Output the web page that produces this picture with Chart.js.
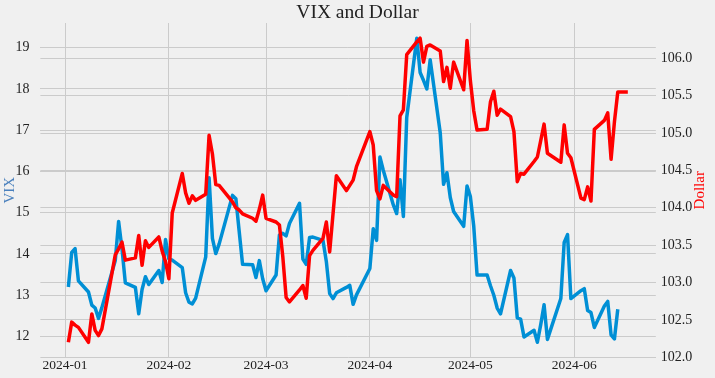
<!DOCTYPE html>
<html>
<head>
<meta charset="utf-8">
<script src="https://cdn.jsdelivr.net/npm/chart.js@4.4.1/dist/chart.umd.min.js"></script>
<style>
    html, body { margin: 0; padding: 0; background: #f0f0f0; }
    canvas { display: block; }
</style>
</head>
<body>
<canvas id="myChart" width="715" height="378"></canvas>
<script>
// Trading days shared by both series
const tradingDays = [
    '2024-01-02','2024-01-03','2024-01-04','2024-01-05','2024-01-08','2024-01-09','2024-01-10','2024-01-11','2024-01-12',
    '2024-01-16','2024-01-17','2024-01-18','2024-01-19','2024-01-22','2024-01-23','2024-01-24','2024-01-25','2024-01-26',
    '2024-01-29','2024-01-30','2024-01-31',
    '2024-02-01','2024-02-02','2024-02-05','2024-02-06','2024-02-07','2024-02-08','2024-02-09','2024-02-12','2024-02-13',
    '2024-02-14','2024-02-15','2024-02-16','2024-02-20','2024-02-21','2024-02-22','2024-02-23','2024-02-26','2024-02-27',
    '2024-02-28','2024-02-29',
    '2024-03-01','2024-03-04','2024-03-05','2024-03-06','2024-03-07','2024-03-08','2024-03-11','2024-03-12','2024-03-13',
    '2024-03-14','2024-03-15','2024-03-18','2024-03-19','2024-03-20','2024-03-21','2024-03-22','2024-03-25','2024-03-26',
    '2024-03-27','2024-03-28',
    '2024-04-01','2024-04-02','2024-04-03','2024-04-04','2024-04-05','2024-04-08','2024-04-09','2024-04-10','2024-04-11',
    '2024-04-12','2024-04-15','2024-04-16','2024-04-17','2024-04-18','2024-04-19','2024-04-22','2024-04-23','2024-04-24',
    '2024-04-25','2024-04-26','2024-04-29','2024-04-30',
    '2024-05-01','2024-05-02','2024-05-03','2024-05-06','2024-05-07','2024-05-08','2024-05-09','2024-05-10','2024-05-13',
    '2024-05-14','2024-05-15','2024-05-16','2024-05-17','2024-05-20','2024-05-21','2024-05-22','2024-05-23','2024-05-24',
    '2024-05-28','2024-05-29','2024-05-30','2024-05-31',
    '2024-06-03','2024-06-04','2024-06-05','2024-06-06','2024-06-07','2024-06-10','2024-06-11','2024-06-12','2024-06-13',
    '2024-06-14'
];

const vixValues = [
    13.20, 14.04, 14.13, 13.35, 13.08, 12.76, 12.69, 12.44, 12.70, 13.84, 14.79, 14.13, 13.30, 13.19, 12.55, 13.14, 13.45, 13.26, 13.60, 13.31, 14.35,
    13.88, 13.85, 13.67, 13.06, 12.83, 12.79, 12.93, 13.93, 15.85, 14.38, 14.01, 14.24, 15.42, 15.34, 14.54, 13.75, 13.74, 13.43, 13.84, 13.40,
    13.11, 13.49, 14.46, 14.50, 14.44, 14.74, 15.23, 13.88, 13.75, 14.40, 14.41, 14.33, 13.82, 13.04, 12.92, 13.06, 13.19, 13.24, 12.78, 13.01,
    13.65, 14.61, 14.33, 16.35, 16.03, 15.19, 14.98, 15.80, 14.91, 17.31, 19.23, 18.40, 18.21, 18.00, 18.71, 16.94, 15.69, 15.97, 15.37, 15.03, 14.67, 15.65,
    15.39, 14.68, 13.49, 13.49, 13.23, 13.00, 12.69, 12.55, 13.60, 13.42, 12.45, 12.42, 11.99, 12.15, 11.86, 12.29, 12.77, 11.93, 12.92, 14.28, 14.47, 12.92,
    13.11, 13.16, 12.63, 12.58, 12.22, 12.74, 12.85, 12.04, 11.94, 12.66
];

// Dollar index has one extra day at the end
const dollarDays = tradingDays.concat(['2024-06-17']);
const dollarValues = [
    102.20, 102.47, 102.43, 102.40, 102.20, 102.58, 102.36, 102.29, 102.38, 103.37, 103.45, 103.54, 103.30, 103.33, 103.63, 103.23, 103.56, 103.47, 103.61, 103.42, 103.28,
    103.05, 103.93, 104.46, 104.20, 104.06, 104.16, 104.10, 104.18, 104.97, 104.72, 104.31, 104.30, 104.08, 104.00, 103.97, 103.92, 103.86, 103.82, 103.98, 104.17,
    103.86, 103.81, 103.77, 103.35, 102.80, 102.74, 102.90, 102.96, 102.79, 103.36, 103.43, 103.59, 103.81, 103.41, 103.92, 104.43, 104.23, 104.30, 104.37, 104.55,
    105.02, 104.84, 104.23, 104.12, 104.30, 104.17, 104.15, 105.23, 105.31, 106.05, 106.22, 106.27, 105.95, 106.16, 106.18, 106.10, 105.69, 105.88, 105.60, 105.95, 105.58, 106.24,
    105.70, 105.30, 105.04, 105.05, 105.42, 105.56, 105.24, 105.32, 105.22, 105.02, 104.35, 104.46, 104.45, 104.62, 104.68, 104.90, 105.12, 104.73, 104.61, 105.11, 104.73, 104.67,
    104.13, 104.11, 104.28, 104.09, 105.05, 105.17, 105.27, 104.65, 105.15, 105.55, 105.55
];

const monthTicks = ['2024-01-01', '2024-02-01', '2024-03-01', '2024-04-01', '2024-05-01', '2024-06-01'];
const monthLabels = ['2024-01', '2024-02', '2024-03', '2024-04', '2024-05', '2024-06'];
const vixTicks = [12, 13, 14, 15, 16, 17, 18, 19];
const dollarTicks = [102.0, 102.5, 103.0, 103.5, 104.0, 104.5, 105.0, 105.5, 106.0];

// days since 2024-01-01
function dayOf(s) {
    return (Date.parse(s) - Date.parse('2024-01-01')) / 86400000;
}

// matplotlib-like 5% margins
function paddedRange(values) {
    const lo = Math.min(...values), hi = Math.max(...values);
    const m = (hi - lo) * 0.05;
    return [lo - m, hi + m];
}

const xRange = paddedRange(dollarDays.map(dayOf).concat(tradingDays.map(dayOf)));
const vixRange = paddedRange(vixValues);
const dollarRange = paddedRange(dollarValues);
const monthDays = monthTicks.map(dayOf);

const gridColor = '#cbcbcb';
const textColor = '#222222';
const serif = "'Liberation Serif', 'Times New Roman', serif";
Chart.defaults.font.family = serif;

// right-hand label, rotated like matplotlib (reads bottom to top)
const rightLabel = {
    id: 'rightLabel',
    afterDraw: function (chart) {
        const c = chart.ctx;
        const area = chart.chartArea;
        c.save();
        c.translate(700, (area.top + area.bottom) / 2);
        c.rotate(-Math.PI / 2);
        c.textAlign = 'center';
        c.textBaseline = 'middle';
        c.fillStyle = '#ff0000';
        c.font = '15px ' + serif;
        c.fillText('Dollar', 0, 0);
        c.restore();
    }
};

const ctx = document.getElementById('myChart').getContext('2d');
new Chart(ctx, {
    type: 'line',
    data: {
        datasets: [
            {
                label: 'Dollar',
                data: dollarDays.map((d, i) => ({ x: dayOf(d), y: dollarValues[i] })),
                yAxisID: 'y1',
                borderColor: '#ff0000',
                borderWidth: 3.5,
                pointRadius: 0,
                borderJoinStyle: 'round',
                tension: 0,
                order: 0
            },
            {
                label: 'VIX',
                data: tradingDays.map((d, i) => ({ x: dayOf(d), y: vixValues[i] })),
                yAxisID: 'y',
                borderColor: '#008fd5',
                borderWidth: 3.5,
                pointRadius: 0,
                borderJoinStyle: 'round',
                tension: 0,
                order: 1
            }
        ]
    },
    options: {
        responsive: false,
        animation: false,
        layout: { padding: 0 },
        plugins: {
            legend: { display: false },
            tooltip: { enabled: false },
            title: {
                display: true,
                text: 'VIX and Dollar',
                color: textColor,
                font: { size: 19.5, weight: 'normal', lineHeight: 1.0 },
                padding: { top: 3.5, bottom: 0 }
            }
        },
        scales: {
            x: {
                type: 'linear',
                min: xRange[0],
                max: xRange[1],
                afterBuildTicks: function (scale) {
                    scale.ticks = monthDays.map(v => ({ value: v }));
                },
                afterFit: function (scale) { scale.height = 20.5; },
                ticks: {
                    autoSkip: false,
                    maxRotation: 0,
                    padding: 0,
                    color: textColor,
                    font: { size: 13.5 },
                    callback: function (value) {
                        const i = monthDays.indexOf(value);
                        return i >= 0 ? monthLabels[i] : '';
                    }
                },
                grid: { color: gridColor, lineWidth: 1, drawTicks: false },
                border: { display: false }
            },
            y: {
                position: 'left',
                min: vixRange[0],
                max: vixRange[1],
                afterBuildTicks: function (scale) {
                    scale.ticks = vixTicks.map(v => ({ value: v }));
                },
                afterFit: function (scale) { scale.width = 40.4; },
                ticks: {
                    padding: 11,
                    color: textColor,
                    font: { size: 14 },
                    callback: v => String(v)
                },
                title: {
                    display: true,
                    text: 'VIX',
                    color: '#4a80bd',
                    font: { size: 15 },
                    padding: { top: 1.5, bottom: 0 }
                },
                grid: { color: gridColor, lineWidth: 1, drawTicks: false },
                border: { display: false }
            },
            y1: {
                position: 'right',
                min: dollarRange[0],
                max: dollarRange[1],
                afterBuildTicks: function (scale) {
                    scale.ticks = dollarTicks.map(v => ({ value: v }));
                },
                afterFit: function (scale) { scale.width = 59.2; },
                ticks: {
                    padding: 5,
                    color: textColor,
                    font: { size: 14 },
                    callback: v => Number(v).toFixed(1)
                },
                grid: { color: gridColor, lineWidth: 1, drawTicks: false },
                border: { display: false }
            }
        }
    },
    plugins: [rightLabel]
});
</script>
</body>
</html>
